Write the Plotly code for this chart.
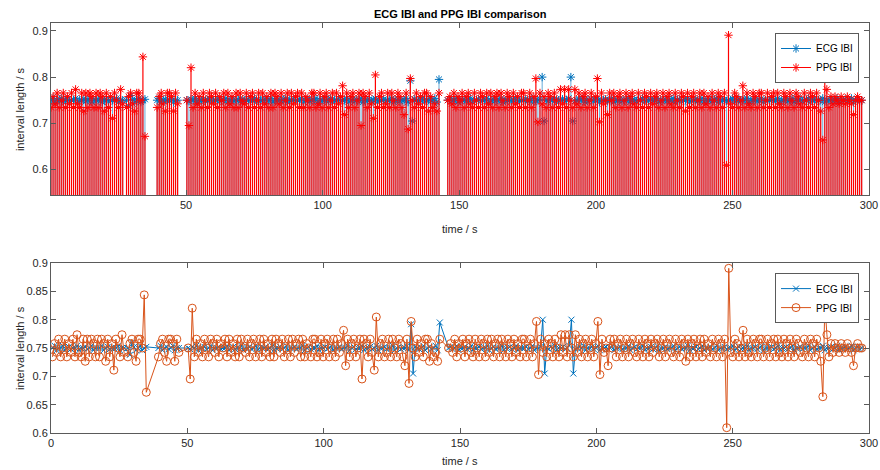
import numpy as np
import plotly.graph_objects as go

# ---------------- data ----------------
# beat-time segments (s): first beat time of each continuous run of detected beats
seg_start = [0.55, 28.2, 39.4, 50.3, 145.8]

# ECG inter-beat intervals in milliseconds
ecg_a = [750, 754, 746, 750, 750, 754, 746, 750, 752, 748,
         750, 750, 754, 746, 750, 750, 752, 748, 750, 754,
         746, 750, 750, 750, 754, 746, 750, 752, 748, 750,
         750, 750, 754, 746, 750, 750]
ecg_b = [750, 738, 760, 752, 746, 750, 754, 746, 750, 752]
ecg_c = [750, 754, 746, 750, 752, 748, 750, 754, 746, 750, 750]
ecg_d = [750, 748, 752, 750, 754, 746, 750, 750, 752, 748,
         750, 754, 746, 750, 750, 752, 748, 750, 750, 754,
         746, 750, 752, 748, 750, 750, 754, 746, 750, 750,
         752, 748, 750, 754, 746, 750, 750, 750, 752, 748,
         750, 754, 746, 750, 750, 752, 748, 750, 754, 746,
         750, 750, 752, 748, 750, 750, 754, 746, 750, 752,
         748, 750, 750, 754, 746, 750, 750, 752, 748, 750,
         754, 746, 750, 750, 752, 748, 750, 750, 754, 746,
         750, 752, 748, 750, 750, 754, 746, 750, 750, 752,
         748, 750, 754, 746, 750, 750, 752, 748, 750, 750,
         754, 746, 750, 752, 748, 750, 750, 754, 746, 792,
         705, 752, 750, 748, 750, 754, 746, 750, 752, 748,
         750, 754, 746, 795]
ecg_e = [750, 752, 748, 750, 754, 746, 750, 750, 752, 748,
         750, 754, 746, 750, 750, 752, 748, 750, 750, 754,
         746, 750, 752, 748, 750, 750, 754, 746, 750, 750,
         752, 748, 750, 754, 746, 750, 750, 750, 752, 748,
         750, 754, 746, 750, 750, 752, 800, 705, 750, 748,
         752, 750, 754, 746, 750, 750, 752, 748, 750, 754,
         800, 705, 748, 750, 752, 750, 754, 746, 750, 750,
         752, 748, 750, 754, 746, 750, 750, 752, 748, 750,
         754, 746, 750, 750, 752, 748, 750, 750, 754, 746,
         750, 752, 748, 750, 750, 754, 746, 750, 750, 752,
         748, 750, 754, 746, 750, 750, 752, 748, 750, 750,
         754, 746, 750, 752, 748, 750, 750, 754, 746, 750,
         750, 752, 748, 750, 754, 746, 750, 750, 752, 748,
         750, 754, 746, 750, 750, 752, 748, 750, 750, 754,
         746, 750, 752, 748, 750, 750, 754, 746, 750, 750,
         752, 748, 750, 754, 746, 750, 750, 750, 752, 748,
         750, 754, 746, 750, 750, 752, 748, 750, 754, 746,
         750, 750, 752, 748, 750, 750, 754, 746, 750, 752,
         748, 750, 750, 754, 746, 750, 750, 752, 748, 750,
         754, 746, 750, 750, 752, 748, 750, 754, 746, 750,
         752, 748, 750]

# PPG inter-beat intervals in samples at 128 Hz
ppg_fs = 128.0
ppg_a = [94, 97, 95, 98, 94, 96, 98, 94, 97, 95,
         98, 94, 99, 95, 94, 98, 93, 98, 94, 98,
         97, 94, 98, 94, 98, 97, 93, 98, 94, 97,
         91, 98, 96, 94, 99, 95]
ppg_b = [94, 97, 98, 95, 93, 98, 98, 96, 108, 86]
ppg_c = [94, 97, 98, 95, 93, 98, 98, 97, 93, 98, 95]
ppg_d = [96, 89, 105, 94, 98, 95, 97, 94, 98, 96,
         94, 98, 97, 95, 98, 94, 97, 96, 98, 94,
         98, 95, 97, 94, 98, 94, 98, 96, 95, 98,
         94, 97, 98, 94, 96, 98, 94, 98, 95, 97,
         94, 98, 94, 98, 97, 95, 98, 94, 96, 98,
         94, 98, 95, 97, 98, 94, 98, 94, 97, 96,
         94, 98, 98, 94, 95, 98, 94, 97, 98, 94,
         96, 98, 94, 98, 95, 97, 100, 92, 98, 94,
         97, 98, 94, 96, 98, 89, 98, 97, 94, 98,
         95, 91, 103, 94, 97, 98, 94, 95, 98, 94,
         98, 96, 94, 98, 97, 94, 92, 98, 88, 102,
         96, 94, 98, 95, 97, 94, 98, 98, 93, 97,
         94, 95, 93, 98]
ppg_e = [96, 97, 95, 98, 94, 97, 96, 98, 94, 97,
         98, 95, 94, 98, 96, 94, 98, 97, 94, 98,
         95, 98, 94, 97, 98, 94, 98, 96, 94, 98,
         97, 94, 98, 95, 97, 94, 98, 98, 94, 96,
         98, 94, 97, 102, 90, 98, 95, 97, 94, 98,
         97, 94, 98, 96, 94, 99, 95, 99, 94, 99,
         96, 94, 99, 95, 98, 94, 97, 98, 94, 96,
         98, 94, 97, 102, 90, 98, 95, 96, 92, 98,
         96, 98, 94, 97, 98, 94, 96, 98, 94, 97,
         98, 95, 94, 98, 96, 94, 98, 97, 94, 98,
         95, 97, 98, 94, 96, 98, 94, 97, 98, 95,
         94, 98, 96, 94, 98, 97, 93, 98, 94, 97,
         98, 94, 96, 98, 94, 98, 95, 97, 94, 98,
         96, 94, 98, 97, 94, 98, 78, 114, 95, 94,
         98, 97, 94, 96, 100, 94, 98, 95, 94, 98,
         97, 94, 98, 98, 94, 96, 98, 94, 97, 98,
         94, 98, 95, 94, 98, 97, 94, 98, 96, 94,
         98, 97, 95, 94, 98, 96, 94, 98, 97, 94,
         98, 96, 93, 85, 106, 99, 94, 97, 95, 97,
         96, 95, 97, 96, 95, 97, 96, 95, 92, 96,
         97, 96, 96]

x_ticks_top = [50, 100, 150, 200, 250, 300]
x_ticks_bottom = [0, 50, 100, 150, 200, 250, 300]
y_ticks_top = [0.6, 0.7, 0.8, 0.9]
y_ticks_bottom = [0.6, 0.65, 0.7, 0.75, 0.8, 0.85, 0.9]

# ---------------- assemble ----------------
t, ecg, ppg = [], [], []
for s, e_ms, p_n in zip(seg_start,
                        [ecg_a, ecg_b, ecg_c, ecg_d, ecg_e],
                        [ppg_a, ppg_b, ppg_c, ppg_d, ppg_e]):
    e = np.array(e_ms, dtype=float) / 1000.0
    tt = s + np.concatenate([[0.0], np.cumsum(e[1:])])
    t.extend(tt.tolist())
    ecg.extend(e.tolist())
    ppg.extend((np.array(p_n, dtype=float) / ppg_fs).tolist())


def stems(xs, ys):
    sx, sy = [], []
    for xv, yv in zip(xs, ys):
        sx += [xv, xv, None]
        sy += [0.0, yv, None]
    return sx, sy


BLUE = "#0072BD"
RED = "#FF0000"
ORANGE = "#D95319"
AX = "#262626"
LINE = "#5a5a5a"
FONT = "Liberation Sans, Arial, sans-serif"

fig = go.Figure()

# ---- top: stem plots ----
sx, sy = stems(t, ecg)
fig.add_trace(go.Scatter(x=sx, y=sy, mode="lines", line=dict(color=BLUE, width=0.6),
                         showlegend=False, hoverinfo="skip", xaxis="x", yaxis="y"))
fig.add_trace(go.Scatter(x=t, y=ecg, mode="markers",
                         marker=dict(symbol="asterisk-open", size=7, color=BLUE,
                                     line=dict(color=BLUE, width=1)),
                         showlegend=False, xaxis="x", yaxis="y"))
sx, sy = stems(t, ppg)
fig.add_trace(go.Scatter(x=sx, y=sy, mode="lines", line=dict(color=RED, width=1.2),
                         showlegend=False, hoverinfo="skip", xaxis="x", yaxis="y"))
fig.add_trace(go.Scatter(x=t, y=ppg, mode="markers",
                         marker=dict(symbol="asterisk-open", size=7, color=RED,
                                     line=dict(color=RED, width=1)),
                         showlegend=False, xaxis="x", yaxis="y"))
# legend entries (top)
fig.add_trace(go.Scatter(x=[None], y=[None], mode="lines+markers", name="ECG IBI",
                         line=dict(color=BLUE, width=1),
                         marker=dict(symbol="asterisk-open", size=7, color=BLUE,
                                     line=dict(color=BLUE, width=1)),
                         legend="legend", xaxis="x", yaxis="y"))
fig.add_trace(go.Scatter(x=[None], y=[None], mode="lines+markers", name="PPG IBI",
                         line=dict(color=RED, width=1),
                         marker=dict(symbol="asterisk-open", size=7, color=RED,
                                     line=dict(color=RED, width=1)),
                         legend="legend", xaxis="x", yaxis="y"))

# ---- bottom: line plots ----
fig.add_trace(go.Scatter(x=t, y=ecg, mode="lines+markers", name="ECG IBI",
                         line=dict(color=BLUE, width=1),
                         marker=dict(symbol="x-thin-open", size=6, color=BLUE,
                                     line=dict(color=BLUE, width=1)),
                         legend="legend2", xaxis="x2", yaxis="y2"))
fig.add_trace(go.Scatter(x=t, y=ppg, mode="lines+markers", name="PPG IBI",
                         line=dict(color=ORANGE, width=1),
                         marker=dict(symbol="circle-open", size=8, color=ORANGE,
                                     line=dict(color=ORANGE, width=1)),
                         legend="legend2", xaxis="x2", yaxis="y2"))

axis_common = dict(showline=True, linecolor=LINE, linewidth=1, mirror="ticks",
                   ticks="inside", ticklen=5, tickcolor=LINE, tickwidth=1,
                   showgrid=False, zeroline=False, automargin=False,
                   tickfont=dict(family=FONT, size=11, color=AX))

legend_common = dict(xanchor="right", yanchor="top", bgcolor="white",
                     bordercolor=LINE, borderwidth=1,
                     font=dict(family=FONT, size=10, color="black"),
                     tracegroupgap=0, itemwidth=30)

fig.update_layout(
    template="none",
    width=880, height=470, autosize=False,
    margin=dict(l=51, r=11, t=23, b=37, autoexpand=False),
    paper_bgcolor="white", plot_bgcolor="white",
    font=dict(family=FONT, size=11, color=AX),
    xaxis=dict(domain=[0, 1], range=[0.55, 300], tickvals=x_ticks_top,
               anchor="y", **axis_common),
    yaxis=dict(domain=[0.5805, 1], range=[0.545, 0.917], tickvals=y_ticks_top,
               anchor="x", **axis_common),
    xaxis2=dict(domain=[0, 1], range=[0, 300], tickvals=x_ticks_bottom,
                anchor="y2", **axis_common),
    yaxis2=dict(domain=[0, 0.4146], range=[0.6, 0.9], tickvals=y_ticks_bottom,
                anchor="x2", **axis_common),
    legend=dict(x=0.9878, y=0.9756, **legend_common),
    legend2=dict(x=0.9878, y=0.390, **legend_common),
    hovermode=False,
)

ann = dict(xref="paper", yref="paper", showarrow=False,
           font=dict(family=FONT, size=11, color=AX))
fig.add_annotation(text="<b>ECG IBI and PPG IBI comparison</b>", x=0.5, y=1.022,
                   xanchor="center", yanchor="middle",
                   **{**ann, "font": dict(family=FONT, size=11, color="black")})
fig.add_annotation(text="time / s", x=0.5, y=0.4976, xanchor="center", yanchor="middle", **ann)
fig.add_annotation(text="time / s", x=0.5, y=-0.0683, xanchor="center", yanchor="middle", **ann)
fig.add_annotation(text="interval length / s", x=-0.0379, y=0.790, textangle=-90,
                   xanchor="center", yanchor="middle", **ann)
fig.add_annotation(text="interval length / s", x=-0.0379, y=0.2073, textangle=-90,
                   xanchor="center", yanchor="middle", **ann)

fig.write_html("out.html")
